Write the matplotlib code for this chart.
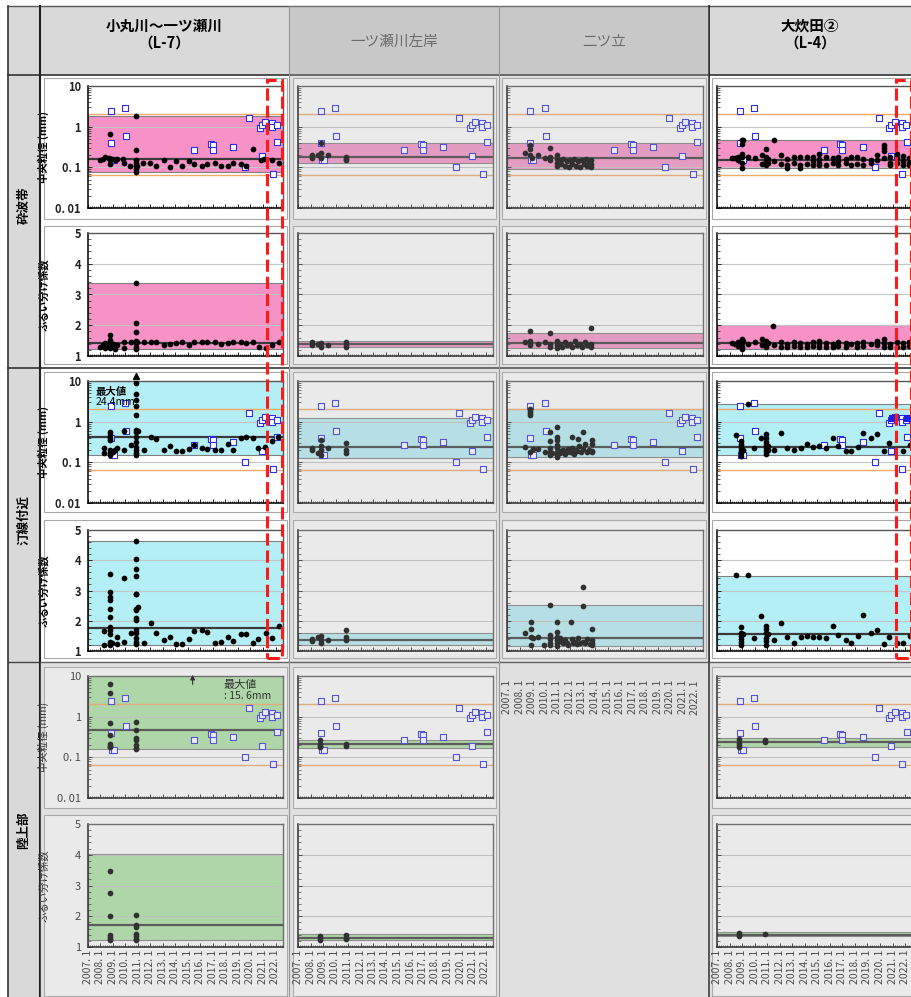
import numpy as np
import matplotlib
matplotlib.use("Agg")
import matplotlib.pyplot as plt
import matplotlib.ticker as mticker
from matplotlib.patches import Rectangle
from matplotlib.lines import Line2D

plt.rcParams['font.family'] = ['Noto Sans CJK JP', 'DejaVu Sans']

# ---------------- data ----------------
col_titles = ['小丸川～一ツ瀬川\n（L-7）', '一ツ瀬川左岸', '二ツ立', '大炊田②\n（L-4）']
zone_labels = ['砕波帯', '汀線付近', '陸上部']
d50_label = '中央粒径 (mm)'
so_label = 'ふるい分け係数'
years = list(range(2007, 2023))
year_labels = [f'{y}. 1' for y in years]
highlight = (2021.3, 2022.5)          # latest survey period (red dashed box)
grain_limits = [2.0, 0.063]           # orange reference lines (mm)

# reference samples (blue open squares), same on every d50 panel
blue_d50 = [(2008.81, 2.4), (2009.99, 2.8), (2010.07, 0.58), (2008.81, 0.39), (2008.9, 0.15),
            (2009.1, 0.15), (2015.5, 0.27), (2016.84, 0.37), (2017.0, 0.35), (2017.0, 0.27),
            (2018.63, 0.32), (2019.6, 0.10), (2019.9, 1.65), (2020.73, 0.93), (2020.9, 1.13),
            (2021.16, 1.32), (2020.9, 0.19), (2021.75, 1.25), (2021.75, 0.96), (2022.09, 1.1),
            (2022.15, 0.43), (2021.77, 0.069)]

# L-7 小丸川～一ツ瀬川
l7_surf_d50 = [(2007.96, 0.152), (2008.17, 0.16), (2008.36, 0.175), (2008.7, 0.17), (2008.76, 0.66),
               (2008.8, 0.15), (2008.8, 0.12), (2008.9, 0.16), (2009.16, 0.15), (2009.29, 0.16),
               (2009.8, 0.16), (2009.85, 0.13), (2010.36, 0.105), (2010.81, 1.85), (2010.81, 0.27),
               (2010.81, 0.15), (2010.81, 0.13), (2010.81, 0.105), (2010.81, 0.09), (2010.81, 0.077),
               (2010.95, 0.11), (2011.43, 0.13), (2011.96, 0.13), (2012.41, 0.11), (2013.08, 0.15),
               (2013.56, 0.10), (2014.01, 0.14), (2014.49, 0.11), (2015.08, 0.145), (2015.51, 0.12),
               (2016.09, 0.11), (2016.55, 0.12), (2017.16, 0.13), (2017.61, 0.105), (2018.17, 0.11),
               (2018.63, 0.13), (2019.21, 0.12), (2019.61, 0.105), (2020.23, 0.28), (2020.81, 0.15),
               (2021.08, 0.16), (2021.75, 0.15), (2022.31, 0.13)]
l7_surf_d50_band, l7_surf_d50_mean = (0.077, 1.85), 0.16

l7_surf_so = [(2007.96, 1.3), (2008.17, 1.36), (2008.36, 1.41), (2008.36, 1.25), (2008.6, 1.33),
              (2008.76, 1.68), (2008.76, 1.52), (2008.76, 1.45), (2008.76, 1.25), (2008.97, 1.38),
              (2009.16, 1.23), (2009.35, 1.36), (2009.85, 1.25), (2009.9, 1.45), (2010.41, 1.45),
              (2010.81, 3.36), (2010.81, 2.07), (2010.81, 1.79), (2010.81, 1.5), (2010.81, 1.41),
              (2010.81, 1.3), (2010.81, 1.23), (2010.95, 1.47), (2011.48, 1.45), (2012.04, 1.47),
              (2012.41, 1.45), (2013.08, 1.36), (2013.56, 1.38), (2014.01, 1.41), (2014.49, 1.45),
              (2015.08, 1.36), (2015.51, 1.45), (2016.09, 1.44), (2016.55, 1.47), (2017.16, 1.47),
              (2017.61, 1.38), (2018.17, 1.41), (2018.63, 1.45), (2019.21, 1.45), (2019.61, 1.41),
              (2020.23, 1.45), (2020.71, 1.3), (2021.24, 1.25), (2021.75, 1.36), (2022.24, 1.47)]
l7_surf_so_band, l7_surf_so_mean = (1.22, 3.37), 1.43

l7_shore_d50 = [(2008.3, 0.23), (2008.3, 0.17), (2008.76, 0.55), (2008.76, 0.47), (2008.76, 0.39),
                (2008.76, 0.36), (2008.76, 0.2), (2008.76, 0.167), (2008.76, 0.152), (2008.97, 0.18),
                (2009.16, 0.2), (2009.35, 0.23), (2009.88, 0.2), (2009.88, 0.59), (2010.41, 0.27),
                (2010.81, 8.9), (2010.81, 4.7), (2010.81, 3.4), (2010.81, 2.4), (2010.81, 1.5),
                (2010.81, 0.62), (2010.81, 0.56), (2010.81, 0.43), (2010.81, 0.32), (2010.81, 0.24),
                (2010.81, 0.2), (2010.81, 0.17), (2010.81, 0.15), (2010.97, 0.6), (2011.48, 0.2),
                (2012.04, 0.43), (2012.41, 0.37), (2013.08, 0.2), (2013.56, 0.25), (2014.01, 0.19),
                (2014.49, 0.19), (2015.08, 0.21), (2015.51, 0.27), (2016.09, 0.23), (2016.55, 0.21),
                (2017.16, 0.2), (2017.61, 0.2), (2018.17, 0.29), (2018.63, 0.2), (2019.21, 0.4),
                (2019.61, 0.43), (2020.23, 0.4), (2020.63, 0.22), (2021.16, 0.24), (2021.69, 0.33),
                (2022.17, 0.43)]
l7_shore_d50_band, l7_shore_d50_mean = (0.15, 24.4), 0.41
l7_shore_max = (2010.81, 24.4)

l7_shore_so = [(2008.3, 1.66), (2008.3, 1.2), (2008.76, 3.54), (2008.76, 2.95), (2008.76, 2.78),
               (2008.76, 2.7), (2008.76, 2.4), (2008.76, 2.12), (2008.76, 1.79), (2008.76, 1.68),
               (2008.76, 1.57), (2008.76, 1.31), (2008.76, 1.24), (2008.76, 1.19), (2008.9, 1.28),
               (2009.29, 1.46), (2009.35, 1.24), (2009.88, 3.41), (2009.88, 1.31), (2010.41, 1.6),
               (2010.81, 4.64), (2010.81, 4.04), (2010.81, 3.72), (2010.81, 3.49), (2010.81, 2.9),
               (2010.81, 2.87), (2010.81, 2.39), (2010.81, 2.34), (2010.81, 2.1), (2010.81, 2.04),
               (2010.81, 1.71), (2010.81, 1.6), (2010.81, 1.44), (2010.81, 1.31), (2010.81, 1.22),
               (2010.97, 2.46), (2011.48, 1.28), (2012.04, 1.93), (2012.41, 1.6), (2013.08, 1.35),
               (2013.56, 1.46), (2014.01, 1.24), (2014.49, 1.24), (2015.08, 1.39), (2015.51, 1.66),
               (2016.09, 1.7), (2016.55, 1.64), (2017.16, 1.28), (2017.61, 1.29), (2018.17, 1.46),
               (2018.63, 1.33), (2019.21, 1.55), (2019.61, 1.56), (2020.23, 1.27), (2020.63, 1.4),
               (2021.24, 1.6), (2021.69, 1.42), (2022.24, 1.82)]
l7_shore_so_band, l7_shore_so_mean = (1.19, 4.64), 1.75

l7_land_d50 = [(2008.76, 6.4), (2008.76, 3.9), (2008.76, 0.69), (2008.76, 0.36), (2008.76, 0.21),
               (2008.76, 0.19), (2008.76, 0.18), (2010.81, 0.76), (2010.81, 0.46), (2010.81, 0.3),
               (2010.81, 0.27), (2010.81, 0.2), (2010.81, 0.17), (2010.81, 0.16)]
l7_land_d50_band, l7_land_d50_mean = (0.16, 15.6), 0.47
l7_land_max = (2015.37, 15.6)

l7_land_so = [(2008.76, 3.47), (2008.76, 2.74), (2008.76, 2.0), (2008.76, 1.38), (2008.76, 1.33),
              (2008.76, 1.27), (2008.76, 1.22), (2010.81, 2.03), (2010.81, 1.73), (2010.81, 1.65),
              (2010.81, 1.43), (2010.81, 1.35), (2010.81, 1.27), (2010.81, 1.22)]
l7_land_so_band, l7_land_so_mean = (1.22, 4.01), 1.71

# 一ツ瀬川左岸
ichi_surf_d50 = [(2008.1, 0.2), (2008.1, 0.17), (2008.6, 0.2), (2008.85, 0.4), (2008.85, 0.22),
                 (2008.85, 0.17), (2009.4, 0.2), (2010.8, 0.18), (2010.8, 0.16), (2010.8, 0.15)]
ichi_surf_d50_band, ichi_surf_d50_mean = (0.13, 0.4), 0.18
ichi_surf_so = [(2008.1, 1.45), (2008.1, 1.35), (2008.6, 1.4), (2008.85, 1.42), (2008.85, 1.3),
                (2009.4, 1.35), (2010.8, 1.45), (2010.8, 1.35), (2010.8, 1.28)]
ichi_surf_so_band, ichi_surf_so_mean = (1.28, 1.5), 1.38
ichi_shore_d50 = [(2008.1, 0.22), (2008.1, 0.2), (2008.6, 0.17), (2008.85, 0.35), (2008.85, 0.25),
                  (2008.85, 0.2), (2008.85, 0.15), (2009.4, 0.22), (2010.8, 0.3), (2010.8, 0.2),
                  (2010.8, 0.17)]
ichi_shore_d50_band, ichi_shore_d50_mean = (0.13, 1.2), 0.24
ichi_shore_so = [(2008.1, 1.4), (2008.1, 1.33), (2008.6, 1.45), (2008.85, 1.5), (2008.85, 1.35),
                 (2008.85, 1.28), (2009.4, 1.35), (2010.8, 1.68), (2010.8, 1.45), (2010.8, 1.35)]
ichi_shore_so_band, ichi_shore_so_mean = (1.2, 1.6), 1.38
ichi_land_d50 = [(2008.76, 0.26), (2008.76, 0.21), (2008.76, 0.19), (2008.76, 0.18),
                 (2010.81, 0.21), (2010.81, 0.19)]
ichi_land_d50_band, ichi_land_d50_mean = (0.17, 0.27), 0.21
ichi_land_so = [(2008.76, 1.35), (2008.76, 1.28), (2008.76, 1.22), (2010.81, 1.4),
                (2010.81, 1.3), (2010.81, 1.25)]
ichi_land_so_band, ichi_land_so_mean = (1.22, 1.42), 1.3

# 二ツ立
futa_surf_d50 = [(2008.47, 0.22), (2008.87, 0.35), (2008.87, 0.28), (2008.87, 0.2), (2009.0, 0.17),
                 (2009.43, 0.2), (2010.0, 0.17), (2010.41, 0.3), (2010.41, 0.18), (2010.41, 0.15),
                 (2010.95, 0.2), (2010.95, 0.16), (2010.95, 0.13), (2010.95, 0.11), (2011.1, 0.15),
                 (2011.3, 0.12), (2011.45, 0.16), (2011.6, 0.11), (2011.75, 0.14), (2011.9, 0.1),
                 (2012.05, 0.15), (2012.2, 0.12), (2012.35, 0.16), (2012.5, 0.11), (2012.65, 0.14),
                 (2012.8, 0.1), (2012.95, 0.15), (2013.1, 0.12), (2013.25, 0.16), (2013.4, 0.11),
                 (2013.55, 0.13), (2013.7, 0.15), (2013.7, 0.12), (2013.7, 0.1)]
futa_surf_d50_band, futa_surf_d50_mean = (0.09, 0.4), 0.165
futa_surf_so = [(2008.47, 1.45), (2008.87, 1.8), (2008.87, 1.5), (2008.87, 1.35), (2009.43, 1.4),
                (2010.0, 1.45), (2010.41, 1.75), (2010.41, 1.4), (2010.41, 1.3), (2010.95, 1.5),
                (2010.95, 1.35), (2010.95, 1.25), (2011.2, 1.4), (2011.4, 1.3), (2011.6, 1.45),
                (2011.8, 1.35), (2012.0, 1.4), (2012.2, 1.3), (2012.4, 1.5), (2012.6, 1.35),
                (2012.8, 1.4), (2013.0, 1.3), (2013.2, 1.45), (2013.4, 1.35), (2013.7, 1.9),
                (2013.7, 1.4), (2013.7, 1.3)]
futa_surf_so_band, futa_surf_so_mean = (1.25, 1.75), 1.42
futa_shore_d50 = [(2008.47, 0.245), (2008.87, 2.03), (2008.87, 1.8), (2008.87, 1.6), (2008.87, 1.45),
                  (2008.87, 0.18), (2009.03, 0.21), (2009.43, 0.21), (2010.0, 0.18), (2010.41, 0.57),
                  (2010.41, 0.33), (2010.41, 0.22), (2010.41, 0.18), (2010.41, 0.15), (2010.55, 0.17),
                  (2010.95, 0.73), (2010.95, 0.43), (2010.95, 0.36), (2010.95, 0.27), (2010.95, 0.22),
                  (2010.95, 0.18), (2010.95, 0.15), (2010.95, 0.135), (2011.21, 0.17), (2011.3, 0.19),
                  (2011.48, 0.2), (2011.61, 0.16), (2011.7, 0.18), (2011.88, 0.21), (2012.01, 0.18),
                  (2012.15, 0.41), (2012.15, 0.22), (2012.28, 0.17), (2012.3, 0.16), (2012.49, 0.2),
                  (2012.6, 0.19), (2012.68, 0.38), (2012.76, 0.25), (2012.87, 0.18), (2013.03, 0.57),
                  (2013.08, 0.21), (2013.21, 0.28), (2013.35, 0.18), (2013.5, 0.2), (2013.75, 0.35),
                  (2013.75, 0.28), (2013.75, 0.19), (2013.75, 0.18)]
futa_shore_d50_band, futa_shore_d50_mean = (0.135, 2.06), 0.245
futa_shore_so = [(2008.47, 1.58), (2008.89, 1.95), (2008.89, 1.73), (2008.89, 1.47), (2008.89, 1.2),
                 (2009.07, 1.44), (2009.43, 1.47), (2009.96, 1.2), (2010.41, 2.52), (2010.41, 1.53),
                 (2010.41, 1.39), (2010.41, 1.28), (2010.41, 1.2), (2010.95, 1.95), (2010.95, 1.62),
                 (2010.95, 1.47), (2010.95, 1.36), (2010.95, 1.25), (2010.95, 1.18), (2011.21, 1.42),
                 (2011.35, 1.31), (2011.48, 1.25), (2011.61, 1.36), (2011.75, 1.28), (2011.88, 1.2),
                 (2012.09, 1.97), (2012.15, 1.39), (2012.28, 1.25), (2012.41, 1.31), (2012.6, 1.23),
                 (2012.68, 1.42), (2012.81, 1.28), (2013.03, 3.13), (2013.03, 2.49), (2013.08, 1.31),
                 (2013.21, 1.25), (2013.35, 1.39), (2013.61, 1.23), (2013.75, 1.72), (2013.75, 1.36),
                 (2013.75, 1.28), (2013.75, 1.2)]
futa_shore_so_band, futa_shore_so_mean = (1.17, 2.52), 1.42

# L-4 大炊田②
ooda_surf_d50 = [(2008.17, 0.17), (2008.44, 0.17), (2008.7, 0.18), (2008.7, 0.149), (2008.97, 0.46),
                 (2008.97, 0.38), (2008.97, 0.217), (2008.97, 0.18), (2008.97, 0.13), (2008.97, 0.096),
                 (2009.1, 0.46), (2009.45, 0.18), (2010.03, 0.17), (2010.56, 0.197), (2010.56, 0.123),
                 (2010.91, 0.29), (2010.91, 0.18), (2010.91, 0.14), (2010.91, 0.116), (2011.1, 0.163),
                 (2011.1, 0.13), (2011.55, 0.46), (2011.55, 0.14), (2012.1, 0.197), (2012.1, 0.123),
                 (2012.56, 0.163), (2012.56, 0.116), (2012.56, 0.096), (2013.14, 0.18), (2013.14, 0.13),
                 (2013.62, 0.18), (2013.62, 0.112), (2013.62, 0.096), (2014.15, 0.18), (2014.15, 0.123),
                 (2014.63, 0.18), (2014.63, 0.14), (2014.63, 0.112), (2015.16, 0.217), (2015.16, 0.163),
                 (2015.16, 0.13), (2015.16, 0.112), (2015.67, 0.18), (2015.67, 0.112), (2016.23, 0.17),
                 (2016.23, 0.13), (2016.68, 0.18), (2016.68, 0.14), (2016.68, 0.112), (2017.29, 0.157),
                 (2017.29, 0.13), (2017.66, 0.18), (2017.66, 0.112), (2018.2, 0.18), (2018.2, 0.123),
                 (2018.68, 0.163), (2018.68, 0.116), (2019.26, 0.149), (2019.26, 0.13), (2019.74, 0.205),
                 (2019.74, 0.149), (2020.32, 0.36), (2020.32, 0.30), (2020.32, 0.25), (2020.32, 0.17),
                 (2020.8, 0.18), (2020.8, 0.13), (2020.8, 0.112), (2021.34, 0.217), (2021.34, 0.17),
                 (2021.34, 0.13), (2021.81, 0.19), (2021.81, 0.14), (2021.81, 0.112), (2022.35, 0.17),
                 (2022.35, 0.13), (2022.35, 0.112)]
ooda_surf_d50_band, ooda_surf_d50_mean = (0.096, 0.46), 0.155
ooda_surf_so = [(2008.17, 1.42), (2008.44, 1.38), (2008.7, 1.45), (2008.7, 1.32), (2008.97, 1.55),
                (2008.97, 1.42), (2008.97, 1.3), (2008.97, 1.22), (2009.1, 1.48), (2009.45, 1.4),
                (2010.03, 1.45), (2010.56, 1.55), (2010.56, 1.35), (2010.91, 1.5), (2010.91, 1.38),
                (2010.91, 1.28), (2011.1, 1.42), (2011.45, 1.98), (2011.55, 1.35), (2012.1, 1.45),
                (2012.1, 1.3), (2012.56, 1.4), (2012.56, 1.28), (2013.14, 1.45), (2013.14, 1.33),
                (2013.62, 1.42), (2013.62, 1.3), (2014.15, 1.4), (2014.15, 1.3), (2014.63, 1.45),
                (2014.63, 1.32), (2015.16, 1.5), (2015.16, 1.38), (2015.16, 1.28), (2015.67, 1.42),
                (2015.67, 1.3), (2016.23, 1.4), (2016.23, 1.3), (2016.68, 1.45), (2016.68, 1.33),
                (2017.29, 1.42), (2017.29, 1.3), (2017.66, 1.38), (2018.2, 1.42), (2018.2, 1.3),
                (2018.68, 1.45), (2018.68, 1.33), (2019.26, 1.4), (2019.74, 1.5), (2019.74, 1.35),
                (2020.32, 1.55), (2020.32, 1.42), (2020.32, 1.3), (2020.8, 1.4), (2020.8, 1.28),
                (2021.34, 1.45), (2021.34, 1.3), (2021.81, 1.42), (2021.81, 1.3), (2022.35, 1.45),
                (2022.35, 1.33)]
ooda_surf_so_band, ooda_surf_so_mean = (1.22, 2.0), 1.42
ooda_shore_d50 = [(2008.49, 0.48), (2008.89, 0.33), (2008.89, 0.29), (2008.89, 0.25), (2008.89, 0.22),
                  (2008.89, 0.19), (2008.89, 0.17), (2008.89, 0.146), (2009.05, 0.2), (2009.45, 2.72),
                  (2009.98, 0.22), (2010.51, 0.39), (2010.91, 0.49), (2010.91, 0.39), (2010.91, 0.32),
                  (2010.91, 0.27), (2010.91, 0.22), (2010.91, 0.19), (2010.91, 0.16), (2011.1, 0.25),
                  (2011.1, 0.2), (2011.55, 0.2), (2012.1, 0.54), (2012.56, 0.22), (2013.14, 0.2),
                  (2013.68, 0.22), (2014.15, 0.29), (2014.63, 0.24), (2015.16, 0.25), (2015.67, 0.22),
                  (2016.23, 0.4), (2016.63, 0.25), (2017.27, 0.19), (2017.66, 0.19), (2018.28, 0.245),
                  (2018.68, 0.54), (2019.29, 0.39), (2019.74, 0.5), (2020.33, 0.19), (2020.75, 0.3),
                  (2021.81, 0.19), (2022.4, 0.27)]
ooda_shore_d50_band, ooda_shore_d50_mean = (0.153, 2.72), 0.245
ooda_recent = [(2020.99, 1.2), (2022.13, 1.2)]
ooda_shore_so = [(2008.49, 3.51), (2009.45, 3.51), (2008.89, 1.78), (2008.89, 1.6), (2008.89, 1.49),
                 (2008.89, 1.4), (2008.89, 1.29), (2008.89, 1.2), (2009.05, 1.55), (2009.98, 1.43),
                 (2010.51, 2.17), (2010.91, 1.84), (2010.91, 1.73), (2010.91, 1.6), (2010.91, 1.44),
                 (2010.91, 1.33), (2010.91, 1.2), (2011.1, 1.57), (2011.55, 1.35), (2012.1, 1.93),
                 (2012.56, 1.46), (2013.14, 1.27), (2013.68, 1.46), (2014.15, 1.49), (2014.63, 1.47),
                 (2015.16, 1.47), (2015.67, 1.43), (2016.23, 1.84), (2016.63, 1.53), (2017.27, 1.36),
                 (2017.66, 1.27), (2018.28, 1.49), (2018.68, 2.2), (2019.29, 1.6), (2019.74, 1.69),
                 (2020.33, 1.22), (2020.75, 1.47), (2021.34, 1.25), (2021.81, 1.25), (2022.4, 1.49)]
ooda_shore_so_band, ooda_shore_so_mean = (1.19, 3.48), 1.55
ooda_land_d50 = [(2008.76, 0.28), (2008.76, 0.22), (2008.76, 0.2), (2008.76, 0.18),
                 (2010.81, 0.27), (2010.81, 0.24)]
ooda_land_d50_band, ooda_land_d50_mean = (0.18, 0.3), 0.24
ooda_land_so = [(2008.76, 1.45), (2008.76, 1.4), (2008.76, 1.35), (2010.81, 1.42)]
ooda_land_so_band, ooda_land_so_mean = (1.35, 1.48), 1.4

panels = {
    (0, 0): (l7_surf_d50, l7_surf_d50_band, l7_surf_d50_mean),
    (0, 1): (l7_surf_so, l7_surf_so_band, l7_surf_so_mean),
    (0, 2): (l7_shore_d50, l7_shore_d50_band, l7_shore_d50_mean),
    (0, 3): (l7_shore_so, l7_shore_so_band, l7_shore_so_mean),
    (0, 4): (l7_land_d50, l7_land_d50_band, l7_land_d50_mean),
    (0, 5): (l7_land_so, l7_land_so_band, l7_land_so_mean),
    (1, 0): (ichi_surf_d50, ichi_surf_d50_band, ichi_surf_d50_mean),
    (1, 1): (ichi_surf_so, ichi_surf_so_band, ichi_surf_so_mean),
    (1, 2): (ichi_shore_d50, ichi_shore_d50_band, ichi_shore_d50_mean),
    (1, 3): (ichi_shore_so, ichi_shore_so_band, ichi_shore_so_mean),
    (1, 4): (ichi_land_d50, ichi_land_d50_band, ichi_land_d50_mean),
    (1, 5): (ichi_land_so, ichi_land_so_band, ichi_land_so_mean),
    (2, 0): (futa_surf_d50, futa_surf_d50_band, futa_surf_d50_mean),
    (2, 1): (futa_surf_so, futa_surf_so_band, futa_surf_so_mean),
    (2, 2): (futa_shore_d50, futa_shore_d50_band, futa_shore_d50_mean),
    (2, 3): (futa_shore_so, futa_shore_so_band, futa_shore_so_mean),
    (3, 0): (ooda_surf_d50, ooda_surf_d50_band, ooda_surf_d50_mean),
    (3, 1): (ooda_surf_so, ooda_surf_so_band, ooda_surf_so_mean),
    (3, 2): (ooda_shore_d50, ooda_shore_d50_band, ooda_shore_d50_mean),
    (3, 3): (ooda_shore_so, ooda_shore_so_band, ooda_shore_so_mean),
    (3, 4): (ooda_land_d50, ooda_land_d50_band, ooda_land_d50_mean),
    (3, 5): (ooda_land_so, ooda_land_so_band, ooda_land_so_mean),
}

# ---------------- layout (pixels) ----------------
W, H = 912, 997
fig = plt.figure(figsize=(W / 100, H / 100), dpi=100)

col_axes = [(88, 283), (298, 493), (507, 703), (717, 912.6)]
row_axes = [(86, 208), (233, 356), (381, 503), (530, 651), (676, 798), (824, 947)]
col_frames = [(44, 287), (293, 496), (502, 706), (712, 916)]
row_frames = [(78, 219), (226, 364), (372, 512), (520, 658), (667, 808), (815, 996)]
zone_colors = ['#f692c6', '#b5eff6', '#ade3a3']


def fig_box(x0, y0, x1, y1, **kw):
    fig.add_artist(Rectangle((x0 / W, 1 - y1 / H), (x1 - x0) / W, (y1 - y0) / H,
                             transform=fig.transFigure, **kw))


def fig_line(xs, ys, **kw):
    fig.add_artist(Line2D([x / W for x in xs], [1 - y / H for y in ys],
                          transform=fig.transFigure, **kw))


# cell backgrounds
fig_box(8, 6, 912, 75, facecolor='#d9d9d9', edgecolor='none', zorder=-3)
fig_box(289, 6, 709, 75, facecolor='#cfcfcf', edgecolor='none', zorder=-3)
fig_box(8, 75, 40, 997, facecolor='#d9d9d9', edgecolor='none', zorder=-3)
fig_box(289, 75, 709, 997, facecolor='#f0f0f0', edgecolor='none', zorder=-3)
fig_box(40, 662, 289, 997, facecolor='#f0f0f0', edgecolor='none', zorder=-3)
fig_box(709, 662, 912, 997, facecolor='#f0f0f0', edgecolor='none', zorder=-3)

# chart-area frames
for (ci, ri) in panels:
    fx0, fx1 = col_frames[ci]
    fy0, fy1 = row_frames[ri]
    fig_box(fx0, fy0, fx1, fy1, facecolor='white', edgecolor='#a8a8a8', lw=0.8, zorder=-1)
fig_box(col_frames[2][0], row_frames[3][0], col_frames[2][1], row_frames[3][1],
        facecolor='none', edgecolor='#a8a8a8', lw=0.8, zorder=-1)

axes = {}
for (ci, ri), (pts, band, mean) in panels.items():
    x0, x1 = col_axes[ci]
    y0, y1 = row_axes[ri]
    ax = fig.add_axes([x0 / W, 1 - y1 / H, (x1 - x0) / W, (y1 - y0) / H])
    axes[(ci, ri)] = ax
    kind = 'd50' if ri % 2 == 0 else 'so'
    zone = ri // 2
    strong = (zone < 2)

    ax.set_xlim(2007.0, 2022.6)
    if kind == 'd50':
        ax.set_yscale('log')
        ax.set_ylim(0.01, 10)
        ax.set_yticks([0.01, 0.1, 1, 10])
        ax.set_yticklabels(['0. 01', '0. 1', '1', '10'])
        ax.yaxis.set_minor_locator(mticker.LogLocator(base=10, subs=np.arange(2, 10)))
        ax.yaxis.set_minor_formatter(mticker.NullFormatter())
        grid_vals = [0.1, 1]
    else:
        ax.set_ylim(1, 5)
        ax.set_yticks([1, 2, 3, 4, 5])
        ax.set_yticklabels(['1', '2', '3', '4', '5'])
        ax.yaxis.set_minor_locator(mticker.MultipleLocator(0.2))
        grid_vals = [2, 3, 4]

    ax.set_xticks(years)
    ax.xaxis.set_minor_locator(mticker.MultipleLocator(1 / 6))
    ax.tick_params(which='both', direction='in', top=False, right=False, colors='#222222')
    ax.tick_params(which='major', length=3, width=0.7)
    ax.tick_params(which='minor', length=1.8, width=0.5)

    for side in ['top', 'right']:
        ax.spines[side].set_color('#555555')
        ax.spines[side].set_linewidth(1.0)
    for side in ['left', 'bottom']:
        ax.spines[side].set_color('black')
        ax.spines[side].set_linewidth(1.1)

    # y labels only in the first column
    if ci == 0:
        for lab in ax.get_yticklabels():
            lab.set_fontsize(8)
            lab.set_fontweight('bold' if strong else 'normal')
        ax.tick_params(axis='y', pad=5)
        ax.set_ylabel(d50_label if kind == 'd50' else so_label, fontsize=7.5,
                      fontweight='bold' if strong else 'normal')
        ax.yaxis.set_label_coords(-0.2, 0.5)
    else:
        ax.tick_params(axis='y', labelleft=False)

    # x labels only below the bottom chart of each column
    if ri == 5 or (ci == 2 and ri == 3):
        ax.set_xticklabels(year_labels, rotation=90, fontsize=7.5)
        ax.tick_params(axis='x', pad=2 if ri == 5 else 21)
    else:
        ax.tick_params(axis='x', labelbottom=False)

    ax.axhspan(band[0], band[1], facecolor=zone_colors[zone], edgecolor='#808080', lw=0.8, zorder=1)
    for g in grid_vals:
        ax.axhline(g, color='#c4c4c4', lw=0.8, zorder=1.5)
    if kind == 'd50':
        for g in grain_limits:
            ax.axhline(g, color='#f2a868', lw=1.0, zorder=2)
        bx = [p[0] for p in blue_d50]
        by = [p[1] for p in blue_d50]
        ax.scatter(bx, by, s=14, marker='s', facecolors='white', edgecolors='#2f2fe0',
                   linewidths=0.8, zorder=3)
    ax.axhline(mean, color='#3a3a3a', lw=1.6, zorder=2.5)
    ax.scatter([p[0] for p in pts], [p[1] for p in pts], s=17, c='black', linewidths=0, zorder=4)

# extra marks and notes
ax = axes[(0, 2)]
ax.plot([l7_shore_max[0]], [13], marker='^', color='black', ms=4, clip_on=False, zorder=5)
ax.text(2007.6, 5.3, '最大値', fontsize=7.5, fontweight='bold', va='center', zorder=6)
ax.text(2007.6, 3.0, f'{l7_shore_max[1]}mm', fontsize=7.5, va='center', zorder=6)

ax = axes[(0, 4)]
ax.annotate('', xy=(l7_land_max[0], 12.5), xytext=(l7_land_max[0], 5.3),
            arrowprops=dict(arrowstyle='-|>', color='black', lw=0.8, mutation_scale=7),
            annotation_clip=False, zorder=6)
ax.text(2017.8, 6.0, '最大値', fontsize=8, va='center', zorder=6)
ax.text(2017.9, 3.2, ': 15. 6mm', fontsize=7.5, va='center', zorder=6)

ax = axes[(3, 2)]
ax.scatter([p[0] for p in ooda_recent], [p[1] for p in ooda_recent], s=16, marker='s',
           facecolors='#2020e0', edgecolors='#2020e0', linewidths=0.8, zorder=5)

# table grid
fig_line([8, 912], [6, 6], color='#555555', lw=1.0, zorder=2)
fig_line([8, 912], [75, 75], color='#333333', lw=1.2, zorder=2)
fig_line([8, 912], [368, 368], color='#333333', lw=1.2, zorder=2)
fig_line([8, 912], [662, 662], color='#444444', lw=1.0, zorder=2)
fig_line([8, 8], [6, 997], color='#333333', lw=1.2, zorder=2)
fig_line([40, 40], [6, 997], color='#222222', lw=1.5, zorder=2)
fig_line([289, 289], [6, 997], color='#888888', lw=0.8, zorder=2)
fig_line([499, 499], [6, 997], color='#888888', lw=0.8, zorder=2)
fig_line([709, 709], [6, 997], color='#222222', lw=1.3, zorder=2)

# headers and zone labels
header_x = [164, 394, 604, 810]
for i, t in enumerate(col_titles):
    strong = i in (0, 3)
    fig.text(header_x[i] / W, 1 - (34 if strong else 42) / H, t, ha='center', va='center',
             fontsize=10.5, fontweight='bold' if strong else 'normal',
             color='black' if strong else '#4f4f4f', linespacing=1.05, zorder=10)
for t, yc in zip(zone_labels, [205, 520, 830]):
    fig.text(24 / W, 1 - yc / H, t, rotation=90, ha='center', va='center', fontsize=9,
             fontweight='bold', zorder=10)

# faded (inactive) regions
for (x0, y0, x1, y1) in [(289, 6, 709, 997), (40, 662, 289, 997), (709, 662, 912, 997)]:
    fig_box(x0, y0, x1, y1, facecolor='#b6b6b6', edgecolor='none', alpha=0.275, zorder=50)

# red dashed box: latest survey period
for ci in (0, 3):
    ax = axes[(ci, 0)]
    px0 = ax.transData.transform((highlight[0], 1.0))[0]
    px1 = ax.transData.transform((highlight[1], 1.0))[0]
    fig_box(px0, 80, px1, 658, facecolor='none', edgecolor='#ff1a1a', lw=2.2,
            linestyle=(0, (4, 1.6)), zorder=60)

fig.savefig('out.png', dpi=100, facecolor='white')
